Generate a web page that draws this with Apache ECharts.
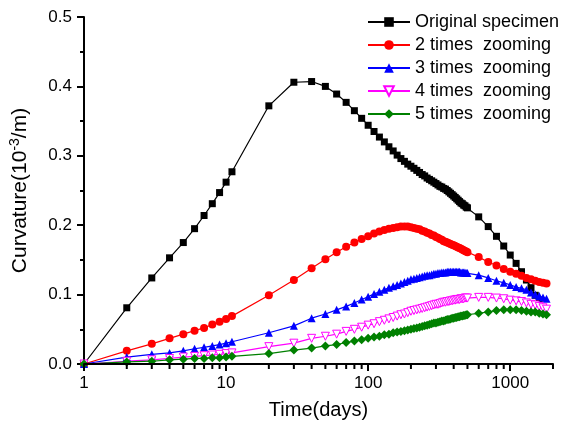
<!DOCTYPE html>
<html>
<head>
<meta charset="utf-8">
<script src="https://cdn.jsdelivr.net/npm/echarts@6/dist/echarts.min.js"></script>
<style>
  html, body { margin: 0; padding: 0; background: #fff; }
  #chart { width: 565px; height: 429px; }
</style>
</head>
<body>
<div id="chart"></div>
<script>
// Sampling times (days)
const days = [
  1, 2, 3, 4, 5, 6, 7, 8, 9, 10, 11, 20, 30, 40,
  50, 60, 70, 80, 90, 100, 110, 120, 130, 140, 150, 160, 170, 180, 190, 200,
  210, 220, 230, 240, 250, 260, 270, 280, 290, 300, 310, 320, 330, 340, 350,
  360, 370, 380, 390, 400, 410, 420, 430, 440, 450, 460, 470, 480, 490, 500,
  600, 700, 800, 900, 1000, 1100, 1200, 1300, 1400, 1500, 1600, 1700, 1800
];

// Curvature (10^-3/m) for each specimen
const original = [
  0, 0.081, 0.124, 0.153, 0.175, 0.195, 0.214, 0.231, 0.247, 0.262, 0.277, 0.372, 0.406, 0.407,
  0.400, 0.389, 0.377, 0.365, 0.354, 0.344, 0.335, 0.327, 0.320, 0.313, 0.307, 0.301, 0.296, 0.292, 0.288, 0.285,
  0.282, 0.279, 0.276, 0.273, 0.271, 0.268, 0.266, 0.264, 0.262, 0.260, 0.258, 0.256, 0.255, 0.253, 0.252,
  0.250, 0.248, 0.246, 0.244, 0.242, 0.240, 0.238, 0.236, 0.234, 0.232, 0.231, 0.229, 0.228, 0.226, 0.225,
  0.212, 0.198, 0.184, 0.170, 0.157, 0.145, 0.133, 0.121, 0.110, 0.099, 0.088, null, null
];
const zoom2 = [
  0, 0.019, 0.029, 0.037, 0.043, 0.048, 0.052, 0.057, 0.061, 0.065, 0.069, 0.099, 0.121, 0.138,
  0.151, 0.161, 0.169, 0.175, 0.180, 0.184, 0.188, 0.191, 0.193, 0.195, 0.196, 0.197, 0.198, 0.198, 0.198, 0.197,
  0.196, 0.195, 0.194, 0.192, 0.191, 0.189, 0.188, 0.186, 0.185, 0.183, 0.182, 0.180, 0.179, 0.177, 0.176,
  0.175, 0.174, 0.173, 0.172, 0.171, 0.170, 0.169, 0.168, 0.167, 0.166, 0.165, 0.164, 0.163, 0.162, 0.161,
  0.154, 0.147, 0.142, 0.137, 0.133, 0.130, 0.127, 0.124, 0.122, 0.120, 0.118, 0.117, 0.116
];
const zoom3 = [
  0, 0.010, 0.014, 0.016, 0.019, 0.022, 0.024, 0.026, 0.028, 0.030, 0.032, 0.045, 0.055, 0.066,
  0.072, 0.078, 0.083, 0.088, 0.093, 0.097, 0.101, 0.104, 0.107, 0.110, 0.112, 0.114, 0.116, 0.118, 0.120, 0.122,
  0.123, 0.124, 0.125, 0.126, 0.127, 0.128, 0.128, 0.129, 0.130, 0.130, 0.131, 0.131, 0.132, 0.132, 0.132,
  0.133, 0.133, 0.133, 0.133, 0.133, 0.133, 0.133, 0.133, 0.133, 0.132, 0.132, 0.132, 0.132, 0.131, 0.131,
  0.128, 0.124, 0.120, 0.117, 0.114, 0.111, 0.109, 0.107, 0.103, 0.100, 0.098, 0.096, 0.094
];
const zoom4 = [
  0, 0.004, 0.006, 0.008, 0.010, 0.011, 0.012, 0.013, 0.014, 0.015, 0.016, 0.025, 0.030, 0.037,
  0.040, 0.043, 0.047, 0.050, 0.053, 0.056, 0.058, 0.061, 0.063, 0.065, 0.067, 0.069, 0.071, 0.072, 0.074, 0.076,
  0.077, 0.078, 0.079, 0.080, 0.081, 0.082, 0.083, 0.084, 0.085, 0.086, 0.086, 0.087, 0.088, 0.089, 0.089,
  0.090, 0.090, 0.091, 0.091, 0.092, 0.092, 0.093, 0.093, 0.093, 0.094, 0.094, 0.094, 0.095, 0.095, 0.095,
  0.096, 0.096, 0.095, 0.094, 0.092, 0.091, 0.090, 0.088, 0.086, 0.085, 0.083, 0.081, 0.079
];
const zoom5 = [
  0, 0.003, 0.004, 0.006, 0.007, 0.008, 0.008, 0.009, 0.009, 0.010, 0.011, 0.015, 0.020, 0.023,
  0.026, 0.028, 0.031, 0.033, 0.035, 0.037, 0.039, 0.040, 0.042, 0.043, 0.045, 0.046, 0.047, 0.048, 0.049, 0.050,
  0.051, 0.052, 0.053, 0.054, 0.055, 0.056, 0.057, 0.058, 0.059, 0.059, 0.060, 0.061, 0.062, 0.062, 0.063,
  0.064, 0.064, 0.065, 0.066, 0.066, 0.067, 0.067, 0.068, 0.068, 0.069, 0.069, 0.070, 0.070, 0.071, 0.071,
  0.073, 0.075, 0.077, 0.078, 0.078, 0.078, 0.077, 0.076, 0.075, 0.075, 0.073, 0.072, 0.071
];

const seriesNames = ['Original specimen', '2 times  zooming', '3 times  zooming', '4 times  zooming', '5 times  zooming'];
const majorTicks = [1, 10, 100, 1000];
const minorTicks = [2, 3, 4, 5, 6, 7, 8, 9, 20, 30, 40, 50, 60, 70, 80, 90,
                    200, 300, 400, 500, 600, 700, 800, 900, 2000];

function pairs(values) {
  const out = [];
  values.forEach((v, i) => { if (v !== null) out.push([days[i], v]); });
  return out;
}

const FONT = 'Liberation Sans, Arial, sans-serif';

const chart = echarts.init(document.getElementById('chart'), null, { renderer: 'canvas' });

const lineSeries = (name, values, color, symbol, size, extra) => Object.assign({
  name: name,
  type: 'line',
  data: pairs(values),
  symbol: symbol,
  symbolSize: size,
  showAllSymbol: true,
  lineStyle: { color: color, width: 1.2 },
  itemStyle: { color: color },
  emphasis: { disabled: true },
  z: 3
}, extra || {});

chart.setOption({
  animation: false,
  backgroundColor: '#fff',
  grid: { left: 83, right: 12, top: 17, bottom: 65, containLabel: false },
  legend: {
    orient: 'vertical',
    left: 362,
    top: 8,
    itemWidth: 42,
    itemHeight: 12,
    itemGap: 5,
    textStyle: { fontFamily: FONT, fontSize: 18, color: '#000' },
    data: seriesNames
  },
  xAxis: {
    type: 'log',
    logBase: 10,
    min: 1,
    max: 2000,
    name: 'Time(days)',
    nameLocation: 'middle',
    nameGap: 36,
    nameTextStyle: { fontFamily: FONT, fontSize: 20, color: '#000' },
    axisLine: { show: true, lineStyle: { color: '#000', width: 2 } },
    axisTick: { show: true, inside: false, length: 7, lineStyle: { color: '#000', width: 2 }, customValues: majorTicks },
    axisLabel: { show: true, margin: 11, fontFamily: FONT, fontSize: 17, color: '#000',
                 customValues: majorTicks, formatter: v => String(Math.round(v)) },
    splitLine: { show: false },
    z: 5
  },
  yAxis: {
    type: 'value',
    min: 0,
    max: 0.5,
    interval: 0.1,
    name: 'Curvature(10{sup|-3}/m)',
    nameLocation: 'middle',
    nameGap: 52,
    nameTextStyle: {
      fontFamily: FONT, fontSize: 21, color: '#000',
      rich: { sup: { fontFamily: FONT, fontSize: 14, color: '#000', verticalAlign: 'top', padding: [0, 0, 10, 0] } }
    },
    axisLine: { show: true, lineStyle: { color: '#000', width: 2 } },
    axisTick: { show: true, inside: false, length: 7, lineStyle: { color: '#000', width: 2 } },
    minorTick: { show: true, splitNumber: 2, length: 4, lineStyle: { color: '#000', width: 2 } },
    axisLabel: { margin: 12, fontFamily: FONT, fontSize: 17, color: '#000', formatter: v => v.toFixed(1) },
    splitLine: { show: false }
  },
  series: [
    lineSeries(seriesNames[0], original, '#000000', 'rect', 7),
    lineSeries(seriesNames[1], zoom2, '#ff0000', 'circle', 8),
    lineSeries(seriesNames[2], zoom3, '#0000ff', 'triangle', 8),
    lineSeries(seriesNames[3], zoom4, '#ff00ff', 'triangle', 8, {
      symbolRotate: 180,
      itemStyle: { color: '#ffffff', borderColor: '#ff00ff', borderWidth: 1 }
    }),
    lineSeries(seriesNames[4], zoom5, '#008000', 'diamond', 9),
    {
      // minor decade ticks below the time axis, positioned through the log scale
      type: 'custom',
      name: 'minor-ticks',
      data: minorTicks.map(v => [v, 0]),
      encode: { x: 0, y: 1 },
      clip: false,
      silent: true,
      z: 6,
      renderItem: (params, api) => {
        const p = api.coord([api.value(0), 0]);
        return {
          type: 'line',
          shape: { x1: p[0], y1: p[1], x2: p[0], y2: p[1] + 5 },
          style: { stroke: '#000', lineWidth: 2 }
        };
      }
    }
  ]
});
</script>
</body>
</html>
